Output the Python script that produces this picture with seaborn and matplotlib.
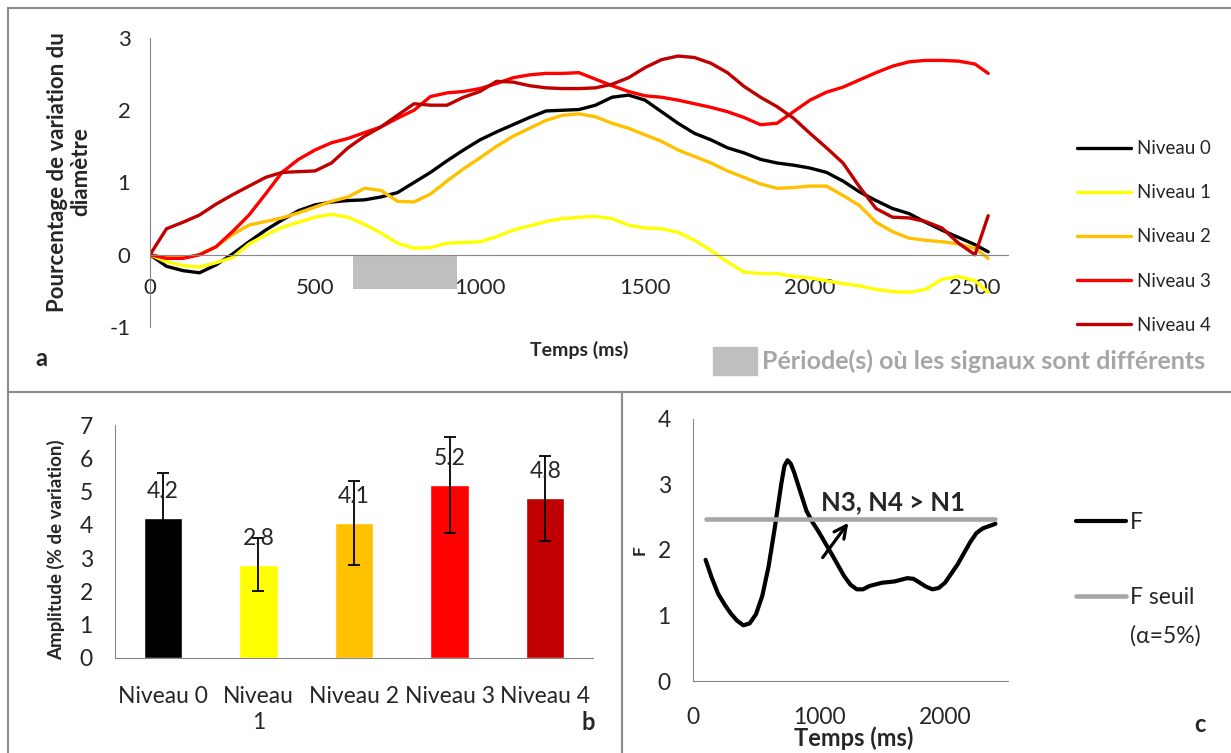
# figure en trois panneaux : signaux (a), amplitudes (b), statistique F (c)

import numpy as np
import pandas as pd
import matplotlib
matplotlib.use('Agg')
import matplotlib.pyplot as plt
import seaborn as sns
from matplotlib.patches import Rectangle, Patch

# ---- données panneau a (lues tous les 50 ms) ----
temps = list(range(0, 2501, 50)) + [2540]
niveau0 = [0, -0.16, -0.22, -0.25, -0.14, 0.01, 0.18, 0.34, 0.48, 0.61, 0.69, 0.73,
           0.75, 0.76, 0.80, 0.86, 1.0, 1.14, 1.3, 1.45, 1.59, 1.7, 1.8, 1.9, 1.99,
           2.0, 2.01, 2.07, 2.18, 2.21, 2.14, 1.98, 1.82, 1.68, 1.59, 1.48, 1.41,
           1.32, 1.27, 1.24, 1.2, 1.14, 1.02, 0.87, 0.75, 0.64, 0.57, 0.45, 0.34,
           0.24, 0.14, 0.04]
niveau1 = [0, -0.1, -0.15, -0.17, -0.11, -0.04, 0.15, 0.27, 0.38, 0.45, 0.52, 0.56,
           0.52, 0.42, 0.3, 0.16, 0.09, 0.1, 0.16, 0.17, 0.18, 0.25, 0.34, 0.4, 0.46,
           0.5, 0.52, 0.53, 0.5, 0.41, 0.37, 0.36, 0.31, 0.2, 0.06, -0.1, -0.24,
           -0.26, -0.26, -0.3, -0.32, -0.36, -0.4, -0.43, -0.48, -0.51, -0.52, -0.48,
           -0.34, -0.3, -0.36, -0.52]
niveau2 = [0, -0.04, -0.04, 0, 0.11, 0.28, 0.41, 0.46, 0.51, 0.58, 0.66, 0.74, 0.8,
           0.92, 0.89, 0.74, 0.73, 0.84, 1.02, 1.19, 1.34, 1.5, 1.64, 1.75, 1.86,
           1.93, 1.95, 1.91, 1.82, 1.75, 1.66, 1.57, 1.45, 1.36, 1.27, 1.16, 1.07,
           0.98, 0.92, 0.93, 0.95, 0.95, 0.82, 0.68, 0.45, 0.32, 0.23, 0.2, 0.18,
           0.15, 0.09, -0.05]
niveau3 = [0, -0.05, -0.05, 0, 0.11, 0.32, 0.55, 0.84, 1.14, 1.32, 1.45, 1.55, 1.61,
           1.69, 1.77, 1.89, 2.0, 2.19, 2.24, 2.26, 2.3, 2.37, 2.45, 2.49, 2.51,
           2.51, 2.52, 2.43, 2.34, 2.26, 2.2, 2.18, 2.14, 2.09, 2.04, 1.98, 1.9,
           1.8, 1.82, 1.98, 2.14, 2.25, 2.32, 2.42, 2.52, 2.61, 2.67, 2.69, 2.69,
           2.68, 2.64, 2.51]
niveau4 = [0, 0.36, 0.45, 0.55, 0.7, 0.83, 0.95, 1.07, 1.14, 1.15, 1.16, 1.27, 1.48,
           1.64, 1.77, 1.93, 2.09, 2.07, 2.07, 2.18, 2.26, 2.4, 2.39, 2.34, 2.31,
           2.3, 2.3, 2.31, 2.36, 2.45, 2.59, 2.7, 2.75, 2.73, 2.65, 2.52, 2.33,
           2.18, 2.05, 1.89, 1.68, 1.48, 1.27, 0.94, 0.64, 0.52, 0.51, 0.46, 0.37,
           0.16, 0.0, 0.54]
periode_diff = (615, 930)

# ---- données panneau b ----
niveaux = ['Niveau 0', 'Niveau 1', 'Niveau 2', 'Niveau 3', 'Niveau 4']
amplitudes = [4.2, 2.8, 4.06, 5.2, 4.8]
erreurs = [1.35, 0.8, 1.27, 1.43, 1.27]
couleurs = ['#000000', '#FFFF00', '#FFC000', '#FF0000', '#C00000']

# ---- données panneau c ----
temps_f = [100, 150, 200, 250, 300, 350, 400, 450, 500, 550, 600, 650, 700, 725,
           750, 775, 800, 850, 900, 950, 1000, 1100, 1200, 1250, 1300, 1350, 1400,
           1500, 1600, 1700, 1750, 1800, 1850, 1900, 1950, 2000, 2100, 2200, 2250,
           2300, 2400]
valeurs_f = [1.85, 1.57, 1.33, 1.17, 1.03, 0.92, 0.85, 0.88, 1.02, 1.3, 1.75, 2.35,
             3.0, 3.28, 3.37, 3.32, 3.2, 2.9, 2.6, 2.42, 2.27, 1.94, 1.6, 1.47, 1.4,
             1.4, 1.45, 1.5, 1.52, 1.57, 1.56, 1.5, 1.44, 1.4, 1.42, 1.5, 1.78, 2.12,
             2.26, 2.33, 2.4]
f_seuil = 2.47

sns.set_style('white')
plt.rcParams['font.family'] = ['Lato', 'DejaVu Sans']
plt.rcParams['axes.unicode_minus'] = False

W, H = 1231, 753
fig = plt.figure(figsize=(W / 100, H / 100), dpi=100)


def rect(x0, y0, x1, y1):
    # rectangle en pixels (origine en haut à gauche) -> fraction de figure
    return [x0 / W, 1 - y1 / H, (x1 - x0) / W, (y1 - y0) / H]


def pt(x, y):
    return (x / W, 1 - y / H)


gris_axe = '#868686'

# cadres des panneaux
for x0, y0, x1, y1 in [(8, 8, 1245, 392), (8, 392, 622, 765), (622, 392, 1245, 765)]:
    r = rect(x0, y0, x1, y1)
    fig.add_artist(Rectangle((r[0], r[1]), r[2], r[3], transform=fig.transFigure,
                             fill=False, edgecolor='#8C8C8C', lw=1.5))

# ================= panneau a =================
ax_a = fig.add_axes(rect(150, 38, 1008, 327))
df_a = pd.DataFrame({'temps': temps, 'Niveau 0': niveau0, 'Niveau 1': niveau1,
                     'Niveau 2': niveau2, 'Niveau 3': niveau3, 'Niveau 4': niveau4})
for nom, c in zip(niveaux, couleurs):
    sns.lineplot(data=df_a, x='temps', y=nom, color=c, lw=2.4, label=nom, ax=ax_a,
                 solid_joinstyle='round')
ax_a.fill_between(list(periode_diff), -0.48, -0.01, color='#BFBFBF', lw=0, zorder=0)

ax_a.set_xlim(0, 2600)
ax_a.set_ylim(-1, 3)
ax_a.set_xticks([0, 500, 1000, 1500, 2000, 2500])
ax_a.set_yticks([-1, 0, 1, 2, 3])
ax_a.spines['bottom'].set_position(('data', 0))
ax_a.spines[['top', 'right']].set_visible(False)
for s in ['left', 'bottom']:
    ax_a.spines[s].set_color(gris_axe)
ax_a.tick_params(axis='both', direction='out', length=6, width=1, color=gris_axe,
                 labelsize=16)
ax_a.tick_params(axis='x', pad=11)
ax_a.tick_params(axis='y', pad=8)
ax_a.set_xlabel('')
ax_a.set_ylabel('')
ax_a.legend(loc='center left', bbox_to_anchor=pt(1077, 237), bbox_transform=fig.transFigure,
            frameon=False, borderpad=0, borderaxespad=0, handlelength=2.9,
            handletextpad=0.3, labelspacing=1.45, fontsize=13.5)

fig.text(*pt(69, 172), 'Pourcentage de variation du\ndiamètre', rotation=90,
         ha='center', va='center', fontsize=16, fontweight='bold', linespacing=1.15,
         multialignment='center')
fig.text(*pt(579, 350), 'Temps (ms)', ha='center', va='center', fontsize=14,
         fontweight='bold')
fig.text(*pt(41, 358), 'a', ha='center', va='center', fontsize=17, fontweight='bold')
fig.legend(handles=[Patch(color='#BFBFBF')],
           labels=['Période(s) où les signaux sont différents'],
           loc='center left', bbox_to_anchor=pt(713, 361), frameon=False,
           borderpad=0, borderaxespad=0, handlelength=1.76, handleheight=1.4,
           handletextpad=0.22, labelcolor='#A6A6A6',
           prop={'size': 18, 'weight': 'bold'})

# ================= panneau b =================
ax_b = fig.add_axes(rect(115, 425, 593, 658))
sns.barplot(x=niveaux, y=amplitudes, hue=niveaux, palette=couleurs, legend=False,
            width=0.4, saturation=1, ax=ax_b)
ax_b.errorbar(x=np.arange(len(niveaux)), y=amplitudes, yerr=erreurs, fmt='none',
              ecolor='black', elinewidth=1.3, capsize=4, capthick=1.3)
for i, v in enumerate(amplitudes):
    ax_b.text(i, v + 0.8, f'{v:.1f}', ha='center', va='center', fontsize=16.5)
ax_b.set_xlim(-0.5, len(niveaux) - 0.5)
ax_b.set_ylim(0, 7)
ax_b.set_yticks(range(8))
ax_b.set_xticks(range(len(niveaux)))
ax_b.set_xticklabels([n if n != 'Niveau 1' else 'Niveau\n1' for n in niveaux],
                     linespacing=1.3)
ax_b.set_xticks(np.arange(-0.5, len(niveaux)), minor=True)
ax_b.spines[['top', 'right']].set_visible(False)
for s in ['left', 'bottom']:
    ax_b.spines[s].set_color(gris_axe)
ax_b.tick_params(axis='x', which='major', length=0, pad=20, labelsize=16.5)
ax_b.tick_params(axis='x', which='minor', direction='out', length=8, width=1,
                 color=gris_axe)
ax_b.tick_params(axis='y', direction='out', length=7, width=1, color=gris_axe,
                 labelsize=16.5, pad=9)
ax_b.set_xlabel('')
ax_b.set_ylabel('')
fig.text(*pt(56, 550), 'Amplitude (% de variation)', rotation=90, ha='center',
         va='center', fontsize=13.5, fontweight='bold')
fig.text(*pt(588, 722), 'b', ha='center', va='center', fontsize=17, fontweight='bold')

# ================= panneau c =================
ax_c = fig.add_axes(rect(693, 419, 1008, 681))
sns.lineplot(x=temps_f, y=valeurs_f, color='black', lw=3, label='F', ax=ax_c,
             solid_joinstyle='round')
sns.lineplot(x=temps_f, y=[f_seuil] * len(temps_f), color='#A6A6A6', lw=3.3,
             label='F seuil', ax=ax_c)
ax_c.annotate('', xy=(1246, 2.45), xytext=(1016, 1.85),
              arrowprops=dict(arrowstyle='->', lw=2.3, color='black',
                              mutation_scale=22))
ax_c.text(1587, 2.73, 'N3, N4 > N1', ha='center', va='center', fontsize=18.5,
          fontweight='bold')
ax_c.set_xlim(0, 2500)
ax_c.set_ylim(0, 4)
ax_c.set_xticks([0, 1000, 2000])
ax_c.set_yticks(range(5))
ax_c.spines[['top', 'right']].set_visible(False)
for s in ['left', 'bottom']:
    ax_c.spines[s].set_color(gris_axe)
ax_c.tick_params(axis='both', direction='out', length=7, width=1, color=gris_axe,
                 labelsize=16.5)
ax_c.tick_params(axis='x', pad=12)
ax_c.tick_params(axis='y', pad=9)
ax_c.set_xlabel('')
ax_c.set_ylabel('')
ax_c.legend(loc='center left', bbox_to_anchor=pt(1076, 560), bbox_transform=fig.transFigure,
            frameon=False, borderpad=0, borderaxespad=0, handlelength=2.2,
            handletextpad=0.15, labelspacing=2.35, fontsize=16.5)
fig.text(*pt(1130, 636), '(α=5%)', ha='left', va='center', fontsize=16.5)
fig.text(*pt(640, 550), 'F', rotation=90, ha='center', va='center', fontsize=12.5,
         fontweight='bold')
fig.text(*pt(854, 738), 'Temps (ms)', ha='center', va='center', fontsize=17,
         fontweight='bold')
fig.text(*pt(1200, 725), 'c', ha='center', va='center', fontsize=17, fontweight='bold')

plt.savefig('out.png', dpi=100)
